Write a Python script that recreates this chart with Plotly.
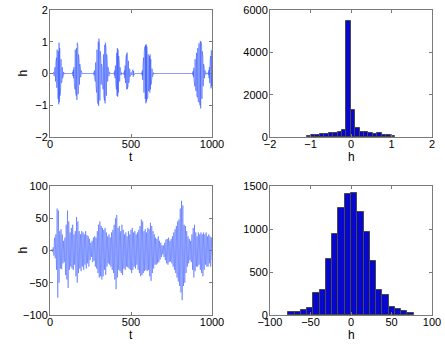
import plotly.graph_objects as go

# ---------------- data ----------------
# Top-left: bursts of oscillation (value samples every 2 time units), zero elsewhere
burst_starts = [24, 140, 270, 396, 456, 566, 880, 976]
burst_values = [
    [0.05, -0.08, 0.15, -0.12, 0.2, -0.25, 0.35, -0.3, 0.5, -0.45, 0.75, -0.55, 0.6, -0.8, 0.7, -0.97,
     0.97, -0.9, 0.8, -0.7, 0.55, -0.45, 0.45, -0.3, 0.4, -0.25, 0.2, -0.15, 0.1, -0.08, 0.05, -0.03],
    [0.05, -0.08, 0.12, -0.15, 0.2, -0.3, 0.4, -0.5, 0.75, -0.6, 0.6, -0.7, 0.8, -0.83, 0.97, -0.8,
     0.85, -0.65, 0.6, -0.5, 0.45, -0.35, 0.3, -0.2, 0.15, -0.12, 0.1, -0.06, 0.04, -0.02],
    [0.03, -0.06, 0.1, -0.15, 0.2, -0.25, 0.35, -0.4, 0.55, -0.6, 0.75, -0.85, 0.9, -0.95, 1.0, -1.02,
     1.1, -0.98, 0.9, -0.85, 0.7, -0.6, 0.45, -0.35, 0.3, -0.25, 0.2, -0.3, 0.4, -0.5, 0.6, -0.7,
     0.8, -0.85, 0.9, -0.94, 0.97, -0.9, 0.8, -0.7, 0.6, -0.45, 0.35, -0.25, 0.2, -0.15, 0.1, -0.08,
     0.05, -0.03, 0.02, -0.01],
    [0.03, -0.06, 0.1, -0.15, 0.25, -0.3, 0.45, -0.5, 0.65, -0.7, 0.8, -0.73, 0.75, -0.6, 0.55, -0.4,
     0.35, -0.25, 0.2, -0.12, 0.08, -0.05, 0.03, -0.02],
    [0.03, -0.05, 0.1, -0.15, 0.25, -0.3, 0.45, -0.4, 0.6, -0.5, 0.66, -0.48, 0.55, -0.4, 0.4, -0.3,
     0.25, -0.2, 0.15, -0.1, 0.08, -0.05, 0.04, -0.03, 0.02, -0.05, 0.08, -0.1, 0.12, -0.1, 0.08, -0.05,
     0.03, -0.01],
    [0.03, -0.06, 0.1, -0.2, 0.3, -0.4, 0.5, -0.6, 0.7, -0.75, 0.85, -0.8, 0.9, -0.94, 0.92, -0.88,
     0.85, -0.8, 0.7, -0.75, 0.6, -0.55, 0.5, -0.45, 0.55, -0.6, 0.6, -0.5, 0.45, -0.35, 0.3, -0.2,
     0.15, -0.1, 0.08, -0.05, 0.03, -0.02],
    [0.03, -0.05, 0.08, -0.12, 0.18, -0.25, 0.3, -0.4, 0.45, -0.5, 0.6, -0.55, 0.65, -0.7, 0.6, -0.75,
     0.8, -0.85, 0.75, -0.9, 0.95, -0.85, 0.9, -1.0, 1.02, -1.1, 1.0, -0.95, 0.9, -0.8, 0.7, -0.6,
     0.5, -0.4, 0.3, -0.25, 0.2, -0.15, 0.1, -0.08, 0.05, -0.03, 0.02, -0.01],
    [0.03, -0.05, 0.1, -0.15, 0.2, -0.3, 0.4, -0.35, 0.55, -0.47, 0.73, -0.4, 0.5],
]
burst_dt = 2

# Bottom-left: samples every 4 time units, t = 0..1000
h2_dt = 4
h2_values = [
    0, 1, -1, 2, -2, 5, -8, 20, -12, 25, -30, 65, -73, 62, -50, 30, -28, 33, -29, 25, -20, 15, -18, 20, -38,
    40, -45, 62, -58, 45, -30, 28, -25, 35, -28, 40, -30, 25, -22, 30, -40, 52, -50, 45, -35, 30, -28, 25, -32, 30,
    -25, 28, -30, 25, -22, 30, -28, 24, -20, 22, -25, 18, -15, 12, -10, 15, -18, 20, -16, 22, -25, 20, -28, 30, -35,
    40, -42, 45, -40, 38, -45, 35, -40, 32, -30, 35, -38, 28, -25, 22, -20, 25, -22, 20, -25, 28, -30, 32, -35, 40,
    -45, 50, -60, 55, -42, 35, -30, 38, -32, 30, -35, 40, -38, 32, -28, 25, -30, 28, -25, 22, -26, 30, -28, 25, -30,
    32, -35, 35, -30, 28, -25, 30, -28, 25, -22, 28, -30, 32, -35, 38, -40, 48, -38, 45, -35, 30, -32, 33, -30, 28,
    -32, 35, -30, 33, -40, 43, -47, 38, -35, 30, -28, 25, -22, 20, -22, 18, -20, 22, -18, 15, -14, 12, -10, 8, -6,
    8, -10, 12, -15, 17, -20, 18, -22, 20, -18, 15, -17, 18, -20, 22, -25, 28, -30, 33, -35, 38, -42, 45, -48, 48,
    -55, 65, -65, 77, -77, 70, -55, 40, -50, 38, -35, 30, -25, 22, -20, 18, -15, 15, -18, 25, -30, 35, -42, 40, -32,
    28, -25, 22, -25, 28, -22, 25, -30, 28, -35, 25, -40, 28, -30, 25, -22, 28, -25, 22, -25, 25, -20, 22, -25, 20,
    -15,
]

# Top-right histogram
hist1_lo, hist1_width = -1.095, 0.109
hist1_counts = [50, 80, 80, 160, 130, 190, 205, 220, 350, 5495,
                1295, 410, 220, 220, 175, 160, 175, 95, 80, 30]

# Bottom-right histogram
hist2_lo, hist2_width = -77.3, 7.73
hist2_counts = [30, 32, 58, 84, 257, 290, 650, 937, 1247, 1406,
                1420, 1196, 962, 633, 294, 233, 96, 68, 45, 24]

# axis titles
x_titles = ["t", "h", "t", "h"]
y_titles = ["h", "h"]

# ---------------- build series ----------------
x1, y1 = [0], [0]
for s, vals in zip(burst_starts, burst_values):
    x1.append(s - burst_dt); y1.append(0)
    for i, v in enumerate(vals):
        x1.append(s + i * burst_dt); y1.append(v)
    x1.append(s + len(vals) * burst_dt); y1.append(0)
if x1[-1] < 1000:
    x1.append(1000); y1.append(0)
else:
    x1[-1] = 1000

x2 = [i * h2_dt for i in range(len(h2_values))]

c1 = [hist1_lo + (i + 0.5) * hist1_width for i in range(len(hist1_counts))]
c2 = [hist2_lo + (i + 0.5) * hist2_width for i in range(len(hist2_counts))]

line_color = "rgba(50,85,255,0.8)"
bar_color = "#0808cc"

fig = go.Figure()
fig.add_trace(go.Scatter(x=x1, y=y1, mode="lines", line=dict(color=line_color, width=0.7),
                         xaxis="x", yaxis="y", showlegend=False))
fig.add_trace(go.Bar(x=c1, y=hist1_counts, width=hist1_width,
                     marker=dict(color=bar_color, line=dict(color="#484848", width=1)),
                     xaxis="x2", yaxis="y2", showlegend=False))
fig.add_trace(go.Scatter(x=x2, y=h2_values, mode="lines", line=dict(color=line_color, width=0.6),
                         xaxis="x3", yaxis="y3", showlegend=False))
fig.add_trace(go.Bar(x=c2, y=hist2_counts, width=hist2_width,
                     marker=dict(color=bar_color, line=dict(color="#484848", width=1)),
                     xaxis="x4", yaxis="y4", showlegend=False))

W, H = 445, 346
L0, L1, R0, R1 = 50, 212, 270, 432
T0, T1, B0, B1 = 10, 137, 186, 315
xl = [L0 / W, L1 / W]
xr = [R0 / W, R1 / W]
yt = [1 - T1 / H, 1 - T0 / H]
yb = [1 - B1 / H, 1 - B0 / H]

font = dict(family="Liberation Sans, Arial, sans-serif", size=11, color="black")
tfont = dict(family="Liberation Sans, Arial, sans-serif", size=12, color="black")

def ax(domain, anchor, rng, tickvals, standoff=0):
    return dict(domain=domain, anchor=anchor, range=rng, tickvals=tickvals, automargin=False,
                showline=True, linecolor="#7a7a7a", linewidth=1, mirror="allticks",
                ticks="inside", ticklen=3, tickcolor="#7a7a7a", tickwidth=1,
                showgrid=False, zeroline=False, tickfont=font, ticklabelstandoff=standoff)

annotations = []
for txt, (xa, xb), yb_px in zip(x_titles, [(L0, L1), (R0, R1), (L0, L1), (R0, R1)],
                                [T1, T1, B1, B1]):
    annotations.append(dict(text=txt, xref="paper", yref="paper",
                            x=(xa + xb) / 2 / W, y=1 - (yb_px + 20) / H,
                            xanchor="center", yanchor="middle", showarrow=False, font=tfont))
for txt, (ya, yb_) in zip(y_titles, [(T0, T1), (B0, B1)]):
    annotations.append(dict(text=txt, xref="paper", yref="paper",
                            x=22 / W, y=1 - (ya + yb_) / 2 / H, textangle=-90,
                            xanchor="center", yanchor="middle", showarrow=False, font=tfont))

fig.update_layout(
    template="none",
    width=W, height=H, margin=dict(l=0, r=0, t=0, b=0, autoexpand=False),
    paper_bgcolor="white", plot_bgcolor="white", bargap=0,
    xaxis=ax(xl, "y", [0, 1000], [0, 500, 1000], -3),
    yaxis=ax(yt, "x", [-2, 2], [-2, -1, 0, 1, 2], -1),
    xaxis2=ax(xr, "y2", [-2, 2], [-2, -1, 0, 1, 2], -3),
    yaxis2=ax(yt, "x2", [0, 6000], [0, 2000, 4000, 6000], -1),
    xaxis3=ax(xl, "y3", [0, 1000], [0, 500, 1000], -3),
    yaxis3=ax(yb, "x3", [-100, 100], [-100, -50, 0, 50, 100], -1),
    xaxis4=ax(xr, "y4", [-100, 100], [-100, -50, 0, 50, 100], -3),
    yaxis4=ax(yb, "x4", [0, 1500], [0, 500, 1000, 1500], -1),
    annotations=annotations,
)

fig.write_html("out.html", config={"displayModeBar": False},
               post_script="document.body.style.margin='0';")
